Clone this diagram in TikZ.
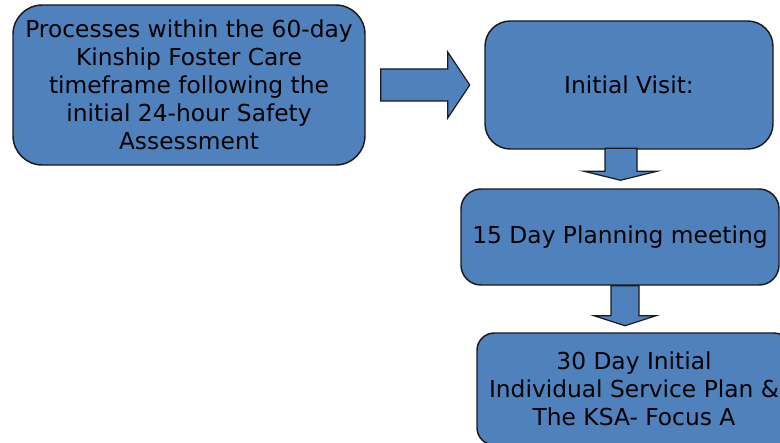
\documentclass[tikz,border=0pt]{standalone}
\usepackage{fontspec}
\setmainfont{DejaVu Sans}
\definecolor{boxblue}{HTML}{4F81BD}
\definecolor{edgecol}{HTML}{1A1A1A}
\begin{document}
\begin{tikzpicture}[x=0.75pt,y=-0.75pt,
  box/.style={draw=edgecol, line width=1.1pt, fill=boxblue, align=center,
    font=\fontsize{17.5}{21}\selectfont, inner sep=0pt},
  blockarrow/.style={draw=edgecol, line width=0.9pt, fill=boxblue, line join=miter}]
\useasboundingbox (0,0) rectangle (780,442);
\clip (0,0) rectangle (780,442);

\node[box, rounded corners=22pt, minimum width=264pt, minimum height=120pt] (b1) at (189,85)
  {Processes within the 60-day\\Kinship Foster Care\\timeframe following the\\initial 24-hour Safety\\Assessment};
\node[box, rounded corners=19pt, minimum width=216pt, minimum height=96pt] (b2) at (629,85)
  {Initial Visit:};
\node[box, rounded corners=15pt, minimum width=238.5pt, minimum height=72pt] (b3) at (620,237)
  {15 Day Planning meeting};
\node[box, rounded corners=13pt, minimum width=235.5pt, minimum height=84pt] (b4) at (634,389)
  {30 Day Initial\\Individual Service Plan \&\\The KSA- Focus A};

% right block arrow b1 -> b2
\draw[blockarrow] (b1.east) ++(15,-16) -- ++(67,0) -- ++(0,-17) -- ++(22,33)
  -- ++(-22,33) -- ++(0,-17) -- ++(-67,0) -- cycle;
% down block arrow b2 -> b3
\draw[blockarrow] (b3.north) ++(-15,-40) -- ++(32,0) -- ++(0,23) -- ++(20,0)
  -- ++(-36.5,9) -- ++(-36.5,-9) -- ++(21,0) -- cycle;
% down block arrow b3 -> b4
\draw[blockarrow] (b3.south) ++(-9,0) -- ++(28,0) -- ++(0,30) -- ++(17,0)
  -- ++(-31,10) -- ++(-31,-10) -- ++(17,0) -- cycle;
\end{tikzpicture}
\end{document}
